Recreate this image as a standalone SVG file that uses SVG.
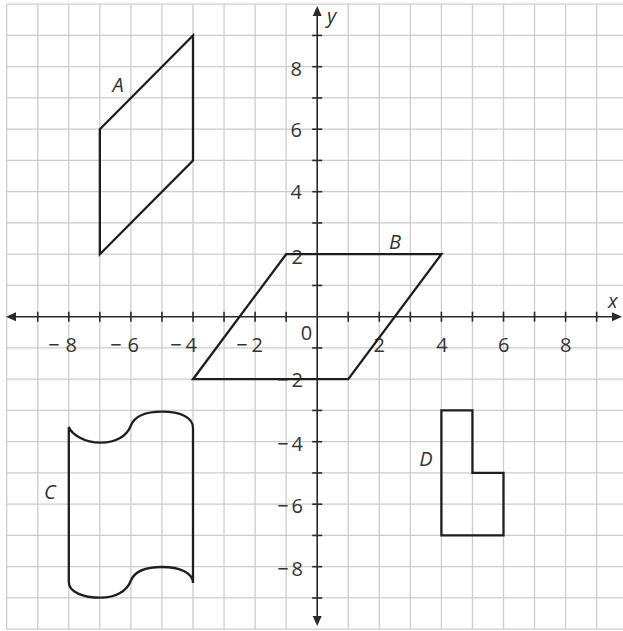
<svg xmlns="http://www.w3.org/2000/svg" width="623" height="631" viewBox="0 0 623 631">
<defs>
<style>
.grid line{stroke:#cdcdcd;stroke-width:1.3}
.axis{stroke:#2a2a2a;stroke-width:1.6;fill:none}
.tick{stroke:#2a2a2a;stroke-width:1.6}
.arrow{fill:#2a2a2a}
.shape{fill:none;stroke:#1e1e1e;stroke-width:2.3;stroke-linejoin:miter}
.num{font-family:"Open Sans","Liberation Sans",sans-serif;font-size:20px;fill:#333}
.lab{font-family:"Open Sans","Liberation Sans",sans-serif;font-size:20px;font-style:italic;fill:#333}
</style>
</defs>
<rect width="623" height="631" fill="#ffffff"/>
<g id="grid" class="grid">
<line x1="6.7" y1="4.2" x2="6.7" y2="629.2"/>
<line x1="37.75" y1="4.2" x2="37.75" y2="629.2"/>
<line x1="68.8" y1="4.2" x2="68.8" y2="629.2"/>
<line x1="99.85" y1="4.2" x2="99.85" y2="629.2"/>
<line x1="130.9" y1="4.2" x2="130.9" y2="629.2"/>
<line x1="161.95" y1="4.2" x2="161.95" y2="629.2"/>
<line x1="193" y1="4.2" x2="193" y2="629.2"/>
<line x1="224.05" y1="4.2" x2="224.05" y2="629.2"/>
<line x1="255.1" y1="4.2" x2="255.1" y2="629.2"/>
<line x1="286.15" y1="4.2" x2="286.15" y2="629.2"/>
<line x1="348.25" y1="4.2" x2="348.25" y2="629.2"/>
<line x1="379.3" y1="4.2" x2="379.3" y2="629.2"/>
<line x1="410.35" y1="4.2" x2="410.35" y2="629.2"/>
<line x1="441.4" y1="4.2" x2="441.4" y2="629.2"/>
<line x1="472.45" y1="4.2" x2="472.45" y2="629.2"/>
<line x1="503.5" y1="4.2" x2="503.5" y2="629.2"/>
<line x1="534.55" y1="4.2" x2="534.55" y2="629.2"/>
<line x1="565.6" y1="4.2" x2="565.6" y2="629.2"/>
<line x1="596.65" y1="4.2" x2="596.65" y2="629.2"/>
<line x1="6.7" y1="4.2" x2="623" y2="4.2"/>
<line x1="6.7" y1="35.45" x2="623" y2="35.45"/>
<line x1="6.7" y1="66.7" x2="623" y2="66.7"/>
<line x1="6.7" y1="97.95" x2="623" y2="97.95"/>
<line x1="6.7" y1="129.2" x2="623" y2="129.2"/>
<line x1="6.7" y1="160.45" x2="623" y2="160.45"/>
<line x1="6.7" y1="191.7" x2="623" y2="191.7"/>
<line x1="6.7" y1="222.95" x2="623" y2="222.95"/>
<line x1="6.7" y1="254.2" x2="623" y2="254.2"/>
<line x1="6.7" y1="285.45" x2="623" y2="285.45"/>
<line x1="6.7" y1="347.95" x2="623" y2="347.95"/>
<line x1="6.7" y1="379.2" x2="623" y2="379.2"/>
<line x1="6.7" y1="410.45" x2="623" y2="410.45"/>
<line x1="6.7" y1="441.7" x2="623" y2="441.7"/>
<line x1="6.7" y1="472.95" x2="623" y2="472.95"/>
<line x1="6.7" y1="504.2" x2="623" y2="504.2"/>
<line x1="6.7" y1="535.45" x2="623" y2="535.45"/>
<line x1="6.7" y1="566.7" x2="623" y2="566.7"/>
<line x1="6.7" y1="597.95" x2="623" y2="597.95"/>
<line x1="6.7" y1="629.2" x2="623" y2="629.2"/>
</g>
<g id="axes">
<line class="axis" x1="14" y1="316.7" x2="615" y2="316.7"/>
<line class="axis" x1="317.2" y1="14" x2="317.2" y2="619"/>
<polygon class="arrow" points="6,316.7 16,312.2 16,321.2"/>
<polygon class="arrow" points="622,316.7 612,312.2 612,321.2"/>
<polygon class="arrow" points="317.2,6 312.7,16 321.7,16"/>
<polygon class="arrow" points="317.2,626 312.7,616 321.7,616"/>
<g id="xticks">
<line class="tick" x1="37.75" y1="311.7" x2="37.75" y2="321.7"/>
<line class="tick" x1="68.8" y1="311.7" x2="68.8" y2="321.7"/>
<line class="tick" x1="99.85" y1="311.7" x2="99.85" y2="321.7"/>
<line class="tick" x1="130.9" y1="311.7" x2="130.9" y2="321.7"/>
<line class="tick" x1="161.95" y1="311.7" x2="161.95" y2="321.7"/>
<line class="tick" x1="193" y1="311.7" x2="193" y2="321.7"/>
<line class="tick" x1="224.05" y1="311.7" x2="224.05" y2="321.7"/>
<line class="tick" x1="255.1" y1="311.7" x2="255.1" y2="321.7"/>
<line class="tick" x1="286.15" y1="311.7" x2="286.15" y2="321.7"/>
<line class="tick" x1="348.25" y1="311.7" x2="348.25" y2="321.7"/>
<line class="tick" x1="379.3" y1="311.7" x2="379.3" y2="321.7"/>
<line class="tick" x1="410.35" y1="311.7" x2="410.35" y2="321.7"/>
<line class="tick" x1="441.4" y1="311.7" x2="441.4" y2="321.7"/>
<line class="tick" x1="472.45" y1="311.7" x2="472.45" y2="321.7"/>
<line class="tick" x1="503.5" y1="311.7" x2="503.5" y2="321.7"/>
<line class="tick" x1="534.55" y1="311.7" x2="534.55" y2="321.7"/>
<line class="tick" x1="565.6" y1="311.7" x2="565.6" y2="321.7"/>
<line class="tick" x1="596.65" y1="311.7" x2="596.65" y2="321.7"/>
</g>
<g id="yticks">
<line class="tick" x1="312.2" y1="35.45" x2="322.2" y2="35.45"/>
<line class="tick" x1="312.2" y1="66.7" x2="322.2" y2="66.7"/>
<line class="tick" x1="312.2" y1="97.95" x2="322.2" y2="97.95"/>
<line class="tick" x1="312.2" y1="129.2" x2="322.2" y2="129.2"/>
<line class="tick" x1="312.2" y1="160.45" x2="322.2" y2="160.45"/>
<line class="tick" x1="312.2" y1="191.7" x2="322.2" y2="191.7"/>
<line class="tick" x1="312.2" y1="222.95" x2="322.2" y2="222.95"/>
<line class="tick" x1="312.2" y1="254.2" x2="322.2" y2="254.2"/>
<line class="tick" x1="312.2" y1="285.45" x2="322.2" y2="285.45"/>
<line class="tick" x1="312.2" y1="347.95" x2="322.2" y2="347.95"/>
<line class="tick" x1="312.2" y1="379.2" x2="322.2" y2="379.2"/>
<line class="tick" x1="312.2" y1="410.45" x2="322.2" y2="410.45"/>
<line class="tick" x1="312.2" y1="441.7" x2="322.2" y2="441.7"/>
<line class="tick" x1="312.2" y1="472.95" x2="322.2" y2="472.95"/>
<line class="tick" x1="312.2" y1="504.2" x2="322.2" y2="504.2"/>
<line class="tick" x1="312.2" y1="535.45" x2="322.2" y2="535.45"/>
<line class="tick" x1="312.2" y1="566.7" x2="322.2" y2="566.7"/>
<line class="tick" x1="312.2" y1="597.95" x2="322.2" y2="597.95"/>
</g>
</g>
<g id="axis-labels">
<text class="lab" x="608" y="308">x</text>
<text class="lab" x="327" y="23">y</text>
<text class="num" x="77" y="352" text-anchor="end">−<tspan dx="6">8</tspan></text>
<text class="num" x="139" y="352" text-anchor="end">−<tspan dx="6">6</tspan></text>
<text class="num" x="197" y="352" text-anchor="end">−<tspan dx="4">4</tspan></text>
<text class="num" x="263" y="352" text-anchor="end">−<tspan dx="4">2</tspan></text>
<text class="num" x="306.5" y="340" text-anchor="middle">0</text>
<text class="num" x="379.3" y="352" text-anchor="middle">2</text>
<text class="num" x="441.9" y="352" text-anchor="middle">4</text>
<text class="num" x="503.8" y="352" text-anchor="middle">6</text>
<text class="num" x="565.8" y="352" text-anchor="middle">8</text>
<text class="num" x="302" y="76" text-anchor="end">8</text>
<text class="num" x="302" y="137" text-anchor="end">6</text>
<text class="num" x="302" y="199" text-anchor="end">4</text>
<text class="num" x="303" y="263.5" text-anchor="end">2</text>
<text class="num" x="303" y="387" text-anchor="end">−<tspan dx="3">2</tspan></text>
<text class="num" x="303" y="451" text-anchor="end">−<tspan dx="3">4</tspan></text>
<text class="num" x="303" y="513" text-anchor="end">−<tspan dx="3">6</tspan></text>
<text class="num" x="303" y="576" text-anchor="end">−<tspan dx="3">8</tspan></text>
</g>
<g id="A">
<polygon class="shape" points="99.85,129.2 193,35.45 193,160.45 99.85,254.2"/>
<text class="lab" x="118" y="92" text-anchor="middle">A</text>
</g>
<g id="B">
<polygon class="shape" points="286.15,254.2 441.4,254.2 348.25,379.2 193,379.2"/>
<text class="lab" x="395" y="249" text-anchor="middle">B</text>
</g>
<g id="C">
<path class="shape" d="M68.8,427 C71.5,434 84,442.7 100.5,442.7 C116,442.7 127,436 130.9,425.5 C135,415.5 146,411.7 162,411.7 C180,411.7 193,417 193,428 L193,583 C193,573 180,567 162,567 C146,567 135,570.5 130.9,580.5 C127,591 116,597.7 100.5,597.7 C83,597.7 68.8,592 68.8,582 Z"/>
<text class="lab" x="50" y="499" text-anchor="middle">C</text>
</g>
<g id="D">
<polygon class="shape" points="441.4,410.45 472.45,410.45 472.45,472.95 503.5,472.95 503.5,535.45 441.4,535.45"/>
<text class="lab" x="426" y="466" text-anchor="middle">D</text>
</g>
</svg>
